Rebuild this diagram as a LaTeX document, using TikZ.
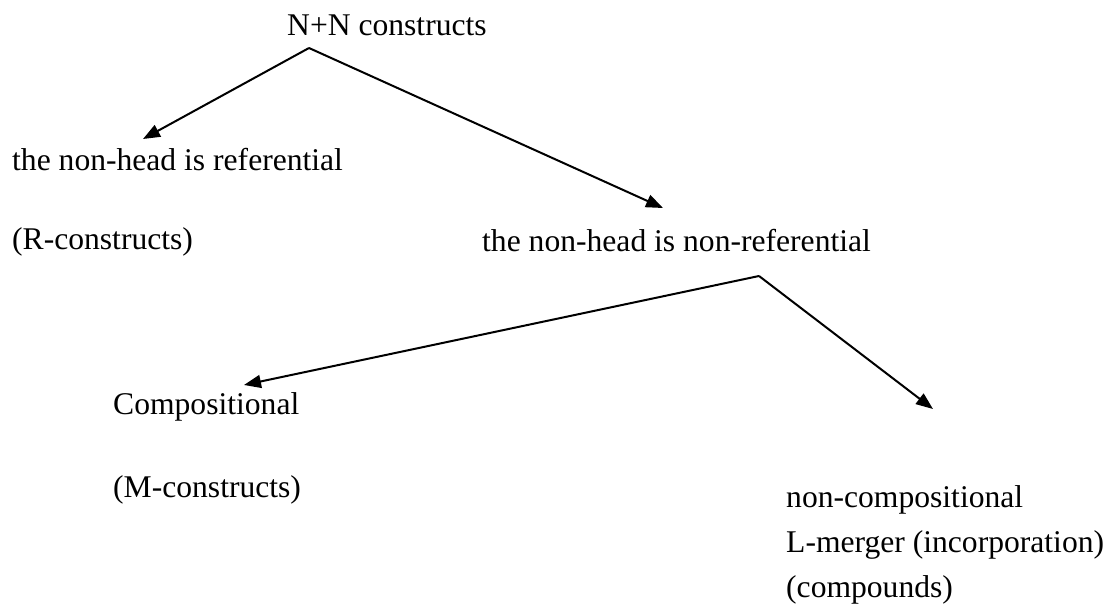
\documentclass[tikz,border=0pt]{standalone}
\usepackage{fontspec}
\setmainfont{Liberation Serif}
\usetikzlibrary{arrows.meta}
\begin{document}
\begin{tikzpicture}[x=1pt,y=-1pt,
  lbl/.style={anchor=base west,inner sep=0pt,font=\fontsize{31.6}{38}\selectfont},
  branch/.style={line width=2pt,-{Triangle[length=17pt,width=13pt]}}]
\useasboundingbox (0,0) rectangle (1119,612);
\node[lbl] (top) at (287,36) {N+N constructs};
\node[lbl] (ref) at (12,171) {the non-head is referential};
\node[lbl] (rc) at (12,250) {(R-constructs)};
\node[lbl] (nref) at (482,252) {the non-head is non-referential};
\node[lbl] (comp) at (113,414) {Compositional};
\node[lbl] (mc) at (113,497) {(M-constructs)};
\node[lbl] (ncomp) at (786,507) {non-compositional};
\node[lbl] (lm) at (786,552) {L-merger (incorporation)};
\node[lbl] (cpd) at (786,597) {(compounds)};
\coordinate (a1) at (309,48);
\coordinate (t1) at (143,139);
\coordinate (t2) at (663,208);
\coordinate (a2) at (759,276);
\coordinate (t3) at (244,385);
\coordinate (t4) at (933,409);
\draw[branch] (a1) -- (t1);
\draw[branch] (a1) -- (t2);
\draw[branch] (a2) -- (t3);
\draw[branch] (a2) -- (t4);
\end{tikzpicture}
\end{document}
